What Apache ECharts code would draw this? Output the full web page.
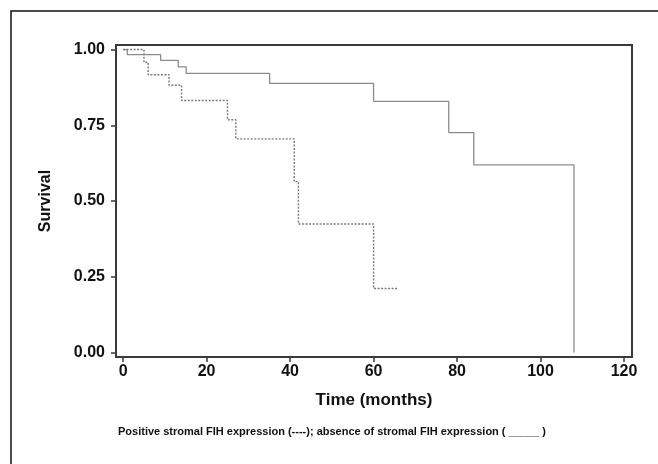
<!DOCTYPE html>
<html>
<head>
	<meta charset="UTF-8">
	<script src="https://cdn.jsdelivr.net/npm/echarts@6/dist/echarts.min.js"></script>
	<style>
		body {
			margin: 0;
			padding: 0;
			background: #fff;
		}

		#chart {
			width: 658px;
			height: 464px;
		}
	</style>
</head>
<body>
	<div id="chart"></div>
	<script>
		// 刻度
		var xTicks = [0, 20, 40, 60, 80, 100, 120];
		var yTicks = [0, 0.25, 0.5, 0.75, 1];
		// 无基质FIH表达（实线）
		var solidTime = [0, 1, 9, 13.2, 15.1, 35.1, 60, 78, 84, 108];
		var solidSurv = [1, 0.983, 0.964, 0.943, 0.921, 0.888, 0.829, 0.726, 0.619, 0];
		// 基质FIH阳性（虚线）
		var dashTime = [0, 5, 6, 11, 14, 25, 27, 41, 42, 60, 66];
		var dashSurv = [1, 0.958, 0.917, 0.882, 0.832, 0.768, 0.705, 0.564, 0.424, 0.211, 0.211];

		function pairs(t, s) {
			return t.map(function (v, i) { return [v, s[i]]; });
		}

		var font = '"Liberation Sans", Arial, sans-serif';
		var chart = echarts.init(document.getElementById('chart'));
		chart.setOption({
			animation: false,
			backgroundColor: '#fff',
			grid: {
				left: 116, top: 45, right: 26, bottom: 107,
				show: true, borderColor: '#3a3a3a', borderWidth: 2
			},
			graphic: [
				{
					type: 'rect', shape: { x: 11, y: 11, width: 700, height: 500 },
					style: { fill: 'none', stroke: '#111', lineWidth: 1.5 }, z: -1
				},
				{
					type: 'text', left: 118, top: 426,
					style: {
						text: 'Positive stromal FIH expression (----); absence of stromal FIH expression ( _____ )',
						font: 'bold 11px ' + font, fill: '#111'
					}
				}
			],
			xAxis: {
				type: 'value', min: -1.7, max: 121.9,
				name: 'Time (months)', nameLocation: 'middle', nameGap: 35,
				nameTextStyle: { fontFamily: font, fontWeight: 'bold', fontSize: 17, color: '#111' },
				axisLine: { onZero: false, lineStyle: { color: '#3a3a3a', width: 2 } },
				axisTick: { show: true, length: 5, customValues: xTicks, lineStyle: { color: '#3a3a3a', width: 1.5 } },
				axisLabel: { customValues: xTicks, fontFamily: font, fontWeight: 'bold', fontSize: 16, color: '#111', margin: 7 },
				splitLine: { show: false }
			},
			yAxis: {
				type: 'value', min: -0.015, max: 1.015,
				name: 'Survival', nameLocation: 'middle', nameGap: 62,
				nameTextStyle: { fontFamily: font, fontWeight: 'bold', fontSize: 16, color: '#111' },
				axisLine: { show: true, onZero: false, lineStyle: { color: '#3a3a3a', width: 2 } },
				axisTick: { show: true, length: 5, customValues: yTicks, lineStyle: { color: '#3a3a3a', width: 1.5 } },
				axisLabel: {
					customValues: yTicks, fontFamily: font, fontWeight: 'bold', fontSize: 16, color: '#111', margin: 11,
					formatter: function (v) { return v.toFixed(2); }
				},
				splitLine: { show: false }
			},
			series: [
				{
					type: 'line', step: 'end', symbol: 'none',
					data: pairs(solidTime, solidSurv),
					lineStyle: { color: '#8c8c8c', width: 1.3, type: 'solid' }
				},
				{
					type: 'line', step: 'end', symbol: 'none',
					data: pairs(dashTime, dashSurv),
					lineStyle: { color: '#7a7a7a', width: 1.4, type: [2, 1.5] }
				}
			]
		});
	</script>
</body>
</html>
